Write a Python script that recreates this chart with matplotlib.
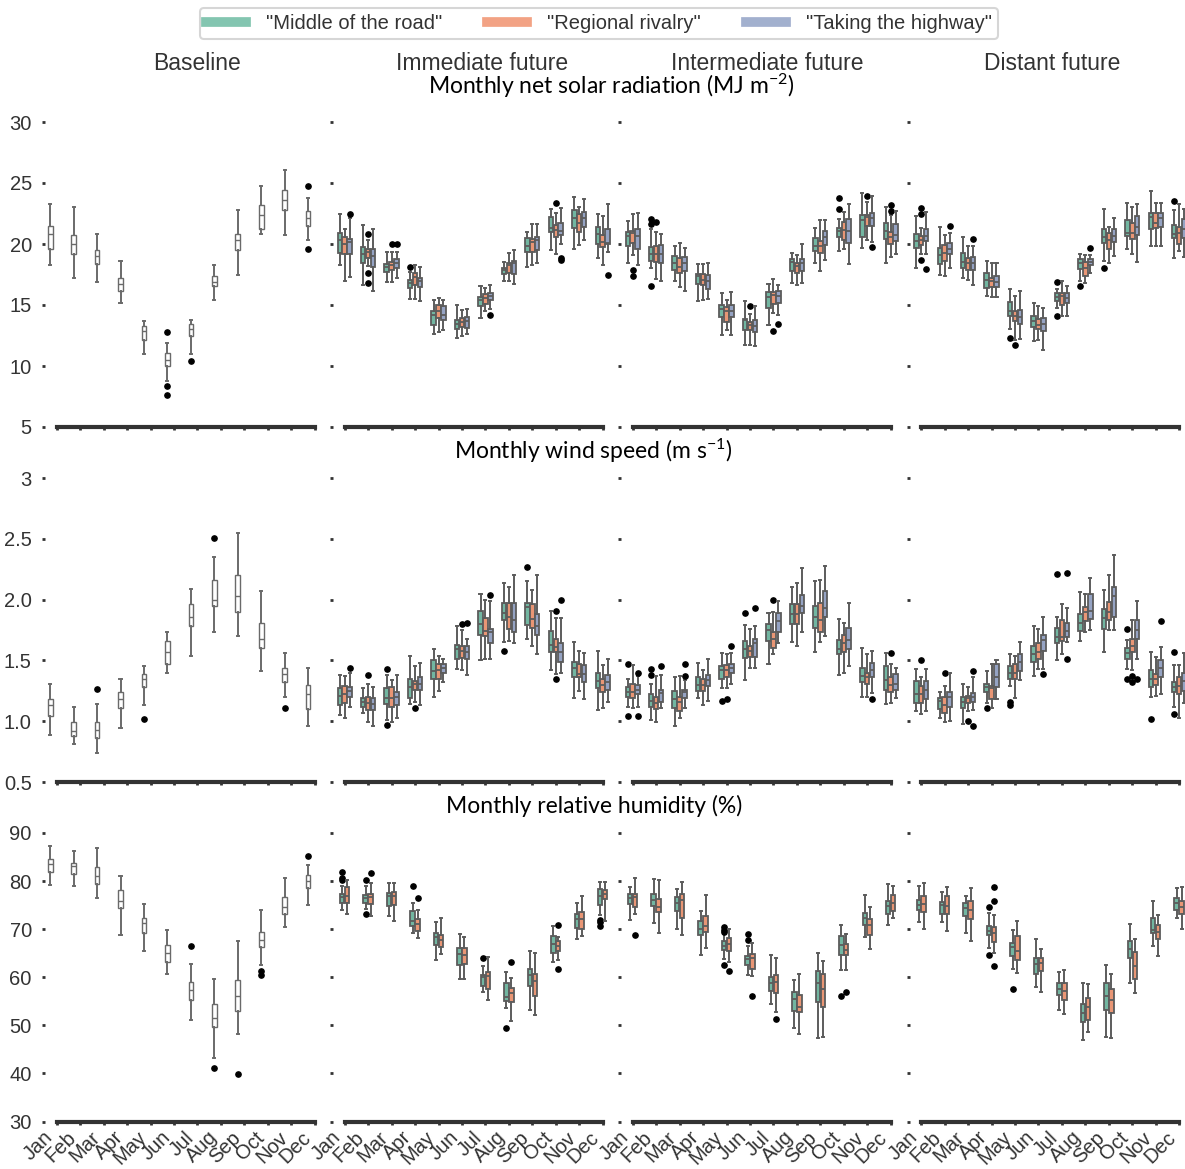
import numpy as np
import matplotlib
matplotlib.use("Agg")
import matplotlib.pyplot as plt
from matplotlib.lines import Line2D
import seaborn as sns

months = ["Jan", "Feb", "Mar", "Apr", "May", "Jun", "Jul", "Aug", "Sep", "Oct", "Nov", "Dec"]
periods = ["Baseline", "Immediate future", "Intermediate future", "Distant future"]
scenarios = ['"Middle of the road"', '"Regional rivalry"', '"Taking the highway"']

# each box: (whisker low, q1, median, q3, whisker high); outliers as {month index: [values]}

# ---- net solar radiation (MJ m-2)
solar_base = [(18.25, 19.6, 20.85, 21.5, 23.3), (17.2, 19.15, 20.0, 20.7, 23.0), (16.9, 18.4, 19.05, 19.5, 20.85),
              (15.15, 16.15, 16.7, 17.25, 18.6), (10.95, 12.15, 12.9, 13.25, 13.7), (8.8, 9.97, 10.5, 11.05, 11.9),
              (10.95, 12.43, 13.05, 13.45, 13.8), (15.4, 16.55, 16.9, 17.4, 18.3), (17.5, 19.5, 20.3, 20.85, 22.8),
              (20.85, 21.2, 22.35, 23.2, 24.75), (20.7, 22.8, 23.6, 24.4, 26.1), (20.3, 21.5, 22.15, 22.7, 23.8)]
solar_base_out = {5: [12.8, 8.4, 7.6], 6: [10.45], 11: [24.75, 19.6]}

solar_imm_mid = [(18.29, 19.24, 20.33, 20.88, 22.46), (16.66, 18.48, 19.19, 19.79, 21.56), (16.85, 17.69, 18.15, 18.37, 19.38),
                 (15.48, 16.38, 16.79, 17.06, 17.7), (12.63, 13.36, 14.2, 14.53, 15.38), (12.3, 13.03, 13.47, 13.8, 15.0),
                 (13.93, 14.94, 15.43, 15.65, 16.57), (16.98, 17.55, 17.88, 18.07, 18.56), (18.15, 19.38, 19.87, 20.52, 21.01),
                 (19.52, 20.96, 21.29, 22.18, 22.84), (19.57, 21.34, 22.1, 22.78, 23.82), (18.83, 19.98, 20.82, 21.42, 22.46)]
solar_imm_mid_out = {3: [18.1]}
solar_imm_reg = [(16.93, 19.16, 20.0, 20.6, 21.2), (18.2, 18.83, 19.38, 19.57, 20.33), (16.85, 17.88, 18.29, 18.56, 19.38),
                 (15.48, 16.66, 17.33, 17.6, 18.29), (12.79, 13.93, 14.53, 14.97, 15.57), (12.49, 13.17, 13.58, 13.93, 14.61),
                 (14.48, 15.1, 15.54, 15.89, 16.38), (16.93, 17.61, 18.24, 18.48, 19.24), (18.24, 19.38, 20.2, 20.39, 21.64),
                 (19.19, 20.55, 21.15, 21.56, 22.51), (19.92, 20.96, 21.69, 22.43, 23.0), (18.24, 19.79, 20.2, 20.74, 22.29)]
solar_imm_reg_out = {1: [20.82, 17.6, 16.8], 2: [19.98], 9: [23.33]}
solar_imm_high = [(17.3, 19.19, 20.2, 20.39, 22.1), (16.16, 18.15, 19.0, 19.57, 21.2), (17.2, 18.0, 18.43, 18.8, 19.38),
                  (15.35, 16.47, 16.93, 17.25, 18.15), (12.92, 13.8, 14.2, 14.94, 15.43), (12.63, 13.12, 13.66, 14.01, 14.67),
                  (14.67, 15.38, 15.76, 15.97, 16.66), (16.71, 17.53, 18.43, 18.64, 19.52), (18.48, 19.52, 20.33, 20.55, 21.64),
                  (20.0, 20.74, 21.07, 21.69, 22.92), (20.33, 21.42, 22.1, 22.65, 23.65), (19.32, 19.98, 20.06, 21.2, 23.25)]
solar_imm_high_out = {0: [22.5], 2: [19.98], 6: [14.2], 9: [18.83, 18.7], 11: [17.47]}

solar_int_mid = [(18.43, 19.87, 20.66, 21.01, 21.91), (18.02, 18.62, 19.19, 19.79, 21.2), (16.98, 17.88, 18.48, 19.05, 19.87),
                 (15.29, 16.74, 17.34, 17.53, 18.34), (12.57, 13.99, 14.67, 14.97, 15.97), (11.7, 12.98, 13.74, 13.88, 15.29),
                 (13.39, 14.75, 15.62, 16.03, 16.74), (16.79, 17.75, 18.51, 18.75, 19.24), (18.43, 19.46, 19.87, 20.47, 21.29),
                 (19.46, 20.55, 21.07, 21.29, 22.02), (19.65, 20.55, 21.97, 22.38, 24.2), (18.48, 20.39, 21.07, 21.75, 23.06)]
solar_int_mid_out = {1: [22.02, 21.64, 16.52], 9: [23.74, 22.84]}
solar_int_reg = [(19.11, 20.06, 20.93, 21.1, 22.46), (17.15, 18.51, 19.19, 19.84, 21.01), (16.47, 17.66, 18.15, 18.83, 20.06),
                 (15.43, 16.66, 17.06, 17.55, 18.34), (12.98, 13.61, 14.48, 14.83, 15.38), (11.75, 12.92, 13.39, 13.58, 14.3),
                 (14.34, 15.1, 15.78, 16.03, 17.12), (16.66, 17.66, 18.21, 18.43, 19.11), (17.75, 19.24, 19.87, 20.28, 21.97),
                 (19.6, 20.33, 21.15, 21.78, 22.59), (20.33, 21.48, 22.24, 22.38, 23.46), (18.97, 20.0, 20.55, 21.01, 22.38)]
solar_int_reg_out = {0: [17.88, 17.34], 1: [21.78], 5: [14.89], 6: [12.9], 10: [23.95], 11: [23.19, 22.73]}
solar_int_high = [(18.24, 19.57, 20.66, 21.2, 22.57), (16.93, 18.43, 19.19, 19.92, 20.82), (16.11, 17.75, 18.43, 18.92, 19.65),
                  (15.48, 16.3, 16.93, 17.47, 18.48), (12.57, 13.99, 14.48, 14.97, 16.03), (11.62, 12.76, 13.25, 13.74, 14.89),
                  (14.2, 15.16, 15.7, 16.11, 16.6), (16.79, 17.75, 18.43, 18.75, 20.0), (18.7, 19.92, 20.6, 21.07, 21.97),
                  (18.34, 20.11, 21.1, 22.02, 23.25), (20.2, 21.48, 22.1, 22.57, 23.95), (19.19, 20.28, 20.74, 21.64, 22.73)]
solar_int_high_out = {6: [13.44], 10: [19.73]}

solar_dis_mid = [(18.07, 19.65, 20.28, 20.82, 22.29), (17.47, 18.37, 19.11, 19.65, 21.42), (17.2, 18.02, 18.56, 19.3, 20.55),
                 (15.7, 16.38, 17.06, 17.61, 18.64), (13.03, 14.12, 14.53, 15.21, 16.3), (12.03, 13.17, 13.66, 14.07, 15.16),
                 (14.75, 15.35, 15.65, 15.97, 16.3), (16.93, 17.94, 18.43, 18.75, 19.19), (18.62, 20.06, 20.6, 21.23, 22.84),
                 (19.57, 20.66, 20.93, 21.97, 23.33), (19.87, 21.23, 22.18, 22.51, 24.33), (18.89, 20.52, 20.8, 21.56, 22.78)]
solar_dis_mid_out = {4: [12.27], 6: [16.85, 14.12], 7: [16.52], 8: [18.02], 11: [23.52]}
solar_dis_reg = [(19.19, 19.92, 20.33, 20.66, 21.29), (17.34, 18.62, 19.24, 19.92, 20.74), (17.06, 17.83, 18.43, 18.83, 19.87),
                 (15.65, 16.47, 16.93, 17.25, 18.48), (12.16, 13.66, 14.12, 14.48, 15.7), (12.16, 13.03, 13.39, 13.85, 14.89),
                 (14.12, 15.02, 15.7, 15.97, 16.93), (16.79, 17.34, 18.02, 18.56, 19.11), (18.48, 19.57, 20.33, 20.93, 21.42),
                 (19.19, 20.39, 20.88, 21.69, 23.0), (19.87, 21.29, 21.69, 22.51, 23.33), (19.43, 20.0, 20.93, 21.37, 23.25)]
solar_dis_reg_out = {0: [22.92, 22.43, 18.7], 4: [11.75]}
solar_dis_high = [(19.19, 20.25, 20.66, 21.2, 22.65), (18.07, 19.16, 19.57, 20.06, 20.93), (16.66, 17.88, 18.43, 18.92, 19.84),
                  (15.65, 16.47, 16.85, 17.39, 18.43), (12.22, 13.47, 14.01, 14.56, 16.11), (11.29, 12.84, 13.47, 13.93, 14.75),
                  (14.07, 15.16, 15.57, 15.97, 16.52), (17.6, 18.24, 18.51, 18.75, 19.11), (19.05, 20.2, 20.66, 21.2, 22.1),
                  (18.56, 20.74, 21.37, 22.29, 23.25), (19.87, 21.37, 22.16, 22.51, 23.38), (18.97, 20.52, 21.2, 22.02, 22.84)]
solar_dis_high_out = {0: [17.94], 1: [21.5], 2: [20.41], 7: [19.71]}

# ---- wind speed (m s-1)
wind_base = [(0.89, 1.045, 1.13, 1.185, 1.31), (0.81, 0.875, 0.92, 0.99, 1.12), (0.74, 0.86, 0.925, 0.99, 1.14),
             (0.945, 1.11, 1.185, 1.24, 1.35), (1.13, 1.28, 1.35, 1.39, 1.45), (1.40, 1.47, 1.57, 1.66, 1.73),
             (1.54, 1.78, 1.86, 1.96, 2.09), (1.73, 1.945, 2.0, 2.16, 2.35), (1.70, 1.895, 2.03, 2.205, 2.55),
             (1.415, 1.60, 1.68, 1.81, 2.07), (1.20, 1.32, 1.39, 1.44, 1.56), (0.96, 1.10, 1.22, 1.30, 1.44)]
wind_base_out = {2: [1.265], 4: [1.02], 7: [2.51], 10: [1.11]}

wind_imm_mid = [(1.05, 1.13, 1.21, 1.27, 1.38), (1.07, 1.12, 1.16, 1.19, 1.27), (1.01, 1.14, 1.19, 1.27, 1.38),
                (1.14, 1.19, 1.28, 1.35, 1.54), (1.20, 1.35, 1.41, 1.50, 1.59), (1.43, 1.51, 1.59, 1.63, 1.78),
                (1.50, 1.71, 1.80, 1.91, 2.05), (1.65, 1.83, 1.89, 1.97, 2.14), (1.68, 1.79, 1.94, 1.97, 2.15),
                (1.42, 1.57, 1.63, 1.74, 1.91), (1.19, 1.36, 1.44, 1.49, 1.65), (1.09, 1.27, 1.33, 1.40, 1.58)]
wind_imm_mid_out = {2: [1.43, 0.97], 7: [1.58], 8: [2.27]}
wind_imm_reg = [(1.03, 1.15, 1.22, 1.29, 1.37), (0.99, 1.09, 1.15, 1.20, 1.31), (0.99, 1.12, 1.19, 1.28, 1.34),
                (1.16, 1.26, 1.31, 1.33, 1.45), (1.25, 1.35, 1.42, 1.47, 1.54), (1.42, 1.52, 1.58, 1.62, 1.75),
                (1.51, 1.70, 1.74, 1.85, 2.0), (1.66, 1.76, 1.86, 1.97, 2.10), (1.62, 1.77, 1.84, 1.96, 2.08),
                (1.39, 1.57, 1.61, 1.68, 1.85), (1.25, 1.36, 1.39, 1.47, 1.58), (1.11, 1.24, 1.30, 1.35, 1.46)]
wind_imm_reg_out = {1: [1.38], 3: [1.11], 5: [1.80], 9: [1.91, 1.35]}
wind_imm_high = [(1.12, 1.20, 1.25, 1.28, 1.40), (0.96, 1.09, 1.14, 1.19, 1.28), (1.03, 1.13, 1.20, 1.24, 1.38),
                 (1.13, 1.26, 1.31, 1.36, 1.48), (1.32, 1.40, 1.44, 1.47, 1.51), (1.38, 1.51, 1.57, 1.62, 1.68),
                 (1.51, 1.64, 1.73, 1.76, 1.99), (1.64, 1.73, 1.83, 1.97, 2.20), (1.55, 1.71, 1.78, 1.88, 2.20),
                 (1.40, 1.49, 1.57, 1.64, 1.85), (1.18, 1.32, 1.39, 1.46, 1.56), (1.16, 1.26, 1.32, 1.38, 1.51)]
wind_imm_high_out = {0: [1.44], 5: [1.81], 6: [2.04], 9: [2.0]}

wind_int_mid = [(1.12, 1.20, 1.24, 1.28, 1.35), (1.01, 1.12, 1.17, 1.22, 1.31), (0.96, 1.11, 1.18, 1.25, 1.36),
                (1.19, 1.25, 1.30, 1.36, 1.48), (1.27, 1.35, 1.42, 1.45, 1.56), (1.34, 1.52, 1.59, 1.66, 1.79),
                (1.47, 1.66, 1.75, 1.80, 1.89), (1.65, 1.80, 1.88, 1.96, 2.10), (1.57, 1.77, 1.86, 1.95, 2.15),
                (1.38, 1.55, 1.59, 1.67, 1.84), (1.20, 1.32, 1.37, 1.44, 1.60), (1.14, 1.26, 1.34, 1.45, 1.56)]
wind_int_mid_out = {0: [1.47, 1.04], 1: [1.43, 1.38], 4: [1.17], 5: [1.89]}
wind_int_reg = [(1.11, 1.19, 1.24, 1.31, 1.46), (0.99, 1.10, 1.15, 1.20, 1.37), (1.03, 1.08, 1.16, 1.20, 1.37),
                (1.13, 1.25, 1.30, 1.35, 1.42), (1.27, 1.36, 1.42, 1.46, 1.55), (1.44, 1.53, 1.58, 1.62, 1.76),
                (1.55, 1.60, 1.68, 1.73, 1.90), (1.62, 1.80, 1.88, 1.96, 2.14), (1.65, 1.73, 1.83, 1.97, 2.16),
                (1.40, 1.57, 1.64, 1.71, 1.81), (1.20, 1.31, 1.36, 1.40, 1.55), (1.15, 1.24, 1.30, 1.36, 1.47)]
wind_int_reg_out = {4: [1.18], 6: [2.0], 11: [1.56]}
wind_int_high = [(1.12, 1.22, 1.26, 1.30, 1.37), (1.11, 1.16, 1.23, 1.26, 1.38), (1.11, 1.19, 1.24, 1.26, 1.34),
                 (1.17, 1.29, 1.34, 1.38, 1.51), (1.31, 1.40, 1.44, 1.47, 1.56), (1.44, 1.53, 1.64, 1.68, 1.78),
                 (1.64, 1.73, 1.82, 1.89, 1.99), (1.73, 1.89, 1.95, 2.04, 2.26), (1.70, 1.86, 1.93, 2.07, 2.28),
                 (1.45, 1.59, 1.67, 1.77, 1.97), (1.23, 1.36, 1.42, 1.48, 1.58), (1.19, 1.26, 1.31, 1.39, 1.44)]
wind_int_high_out = {0: [1.40, 1.04], 1: [1.45], 2: [1.47, 1.37], 4: [1.62], 5: [1.93], 10: [1.18]}

wind_dis_mid = [(1.08, 1.15, 1.22, 1.33, 1.43), (1.03, 1.10, 1.17, 1.19, 1.24), (0.98, 1.11, 1.16, 1.20, 1.31),
                (1.15, 1.24, 1.28, 1.31, 1.41), (1.29, 1.35, 1.40, 1.45, 1.55), (1.37, 1.49, 1.55, 1.62, 1.78),
                (1.50, 1.64, 1.69, 1.77, 1.86), (1.66, 1.74, 1.81, 1.88, 2.06), (1.57, 1.76, 1.85, 1.92, 2.08),
                (1.43, 1.51, 1.56, 1.60, 1.67), (1.20, 1.28, 1.35, 1.42, 1.57), (1.12, 1.24, 1.28, 1.32, 1.46)]
wind_dis_mid_out = {3: [1.11], 4: [1.16, 1.13], 6: [2.21], 9: [1.76, 1.35], 10: [1.02], 11: [1.57, 1.06]}
wind_dis_reg = [(1.06, 1.15, 1.22, 1.29, 1.36), (0.99, 1.07, 1.13, 1.20, 1.29), (1.08, 1.15, 1.19, 1.21, 1.28),
                (1.11, 1.18, 1.27, 1.29, 1.47), (1.19, 1.35, 1.40, 1.47, 1.54), (1.43, 1.51, 1.57, 1.64, 1.76),
                (1.55, 1.66, 1.69, 1.83, 1.96), (1.73, 1.82, 1.90, 1.94, 2.05), (1.75, 1.83, 1.90, 1.98, 2.20),
                (1.42, 1.57, 1.62, 1.68, 1.83), (1.21, 1.30, 1.35, 1.39, 1.53), (1.03, 1.22, 1.29, 1.36, 1.46)]
wind_dis_reg_out = {0: [1.50], 1: [1.40], 2: [1.0], 9: [1.37, 1.32]}
wind_dis_high = [(1.08, 1.18, 1.26, 1.33, 1.43), (1.0, 1.12, 1.20, 1.24, 1.40), (1.09, 1.16, 1.20, 1.23, 1.36),
                 (1.18, 1.28, 1.36, 1.47, 1.50), (1.34, 1.41, 1.49, 1.55, 1.65), (1.43, 1.58, 1.67, 1.71, 1.86),
                 (1.65, 1.69, 1.74, 1.81, 1.93), (1.75, 1.84, 1.91, 2.05, 2.18), (1.75, 1.86, 2.03, 2.10, 2.37),
                 (1.51, 1.68, 1.75, 1.83, 1.99), (1.22, 1.36, 1.44, 1.50, 1.61), (1.15, 1.25, 1.33, 1.40, 1.56)]
wind_dis_high_out = {2: [1.41, 0.96], 5: [1.39], 6: [2.22, 1.51], 9: [1.35], 10: [1.82]}

# ---- relative humidity (%)
hum_base = [(79.1, 81.9, 83.6, 84.6, 87.4), (78.9, 81.5, 83.2, 83.8, 86.3), (76.5, 79.3, 81.1, 82.9, 86.9),
            (68.8, 74.4, 75.9, 78.2, 81.1), (65.4, 69.1, 71.3, 72.3, 75.2), (60.7, 63.2, 65.0, 66.8, 69.9),
            (51.2, 55.3, 57.4, 59.0, 62.7), (43.2, 49.6, 51.5, 54.4, 59.7), (48.3, 52.9, 56.0, 59.5, 67.6),
            (62.5, 66.3, 67.8, 69.4, 73.9), (70.4, 73.1, 74.6, 76.6, 80.6), (75.1, 78.6, 80.1, 81.3, 83.4)]
hum_base_out = {6: [66.4], 7: [41.2], 8: [39.9], 9: [61.2, 60.5], 11: [85.3]}

hum_imm_mid = [(73.9, 75.4, 76.7, 77.3, 79.0), (74.2, 75.4, 76.5, 77.2, 79.0), (72.8, 74.9, 76.8, 77.5, 79.7),
               (69.1, 70.7, 71.8, 73.7, 75.4), (63.6, 66.8, 68.3, 69.3, 71.4), (59.6, 62.6, 64.9, 66.1, 69.0),
               (56.9, 58.1, 60.0, 60.4, 62.3), (53.6, 55.1, 55.9, 58.8, 61.0), (53.2, 58.1, 60.4, 61.8, 65.4),
               (63.1, 65.0, 66.9, 68.5, 70.7), (68.0, 70.2, 72.1, 73.2, 75.4), (73.0, 75.1, 77.0, 78.3, 79.9)]
hum_imm_mid_out = {0: [81.8, 80.6, 80.2], 1: [80.2, 73.1], 3: [79.0], 6: [64.1], 7: [49.4], 11: [72.0, 71.4, 70.7]}
hum_imm_reg = [(73.2, 75.4, 76.8, 78.8, 80.3), (72.7, 75.3, 76.7, 77.4, 79.5), (71.8, 75.1, 76.8, 77.7, 79.6),
               (68.2, 69.7, 71.1, 72.1, 73.9), (64.9, 66.3, 67.8, 68.7, 72.3), (59.6, 62.8, 64.7, 66.0, 68.4),
               (55.3, 57.6, 60.2, 61.0, 64.2), (50.8, 54.8, 56.7, 57.8, 59.8), (52.2, 56.0, 59.3, 60.7, 65.0),
               (63.6, 65.5, 66.6, 67.5, 68.4), (68.5, 70.0, 72.1, 73.6, 76.8), (71.8, 76.3, 77.3, 78.2, 79.8)]
hum_imm_reg_out = {1: [81.7], 3: [76.5], 7: [63.2], 9: [70.9, 61.8]}

hum_int_mid = [(72.0, 75.3, 76.5, 77.4, 78.8), (71.3, 74.9, 76.0, 77.4, 80.4), (70.0, 73.8, 75.4, 76.7, 78.4),
               (64.7, 68.8, 70.0, 71.8, 73.7), (63.8, 65.7, 66.6, 67.5, 68.9), (60.5, 62.5, 63.8, 64.5, 66.5),
               (54.4, 57.1, 58.9, 60.0, 64.7), (49.4, 52.9, 55.5, 56.9, 59.5), (47.4, 54.8, 58.9, 61.2, 65.0),
               (61.6, 64.7, 66.8, 68.6, 70.9), (68.3, 70.8, 72.3, 73.4, 77.2), (70.9, 73.2, 74.9, 75.8, 79.3)]
hum_int_mid_out = {4: [70.4, 69.9, 69.4, 62.6], 5: [69.0, 67.8], 9: [56.2]}
hum_int_reg = [(73.2, 74.6, 76.7, 77.4, 80.6), (69.3, 73.5, 74.7, 76.3, 80.3), (68.8, 72.3, 76.1, 77.4, 79.9),
               (66.1, 69.5, 70.6, 72.8, 77.2), (63.2, 65.4, 67.0, 68.2, 70.0), (60.2, 61.8, 63.9, 64.9, 67.1),
               (52.7, 56.7, 59.1, 60.4, 64.0), (48.1, 52.7, 53.8, 56.4, 60.7), (47.6, 53.9, 57.5, 60.6, 63.4),
               (61.6, 64.7, 65.6, 66.9, 69.0), (65.9, 68.8, 70.8, 72.1, 74.7), (72.3, 73.7, 75.4, 77.2, 79.0)]
hum_int_reg_out = {0: [68.8], 4: [61.2], 5: [56.2], 6: [51.3], 9: [56.9]}

hum_dis_mid = [(71.4, 73.9, 75.1, 76.1, 79.0), (71.4, 73.2, 75.1, 75.6, 77.7), (69.3, 72.8, 74.4, 75.4, 77.0),
               (66.1, 68.8, 69.7, 70.7, 73.4), (61.8, 64.5, 66.3, 67.1, 69.9), (57.9, 60.7, 62.8, 63.9, 67.9),
               (53.1, 56.4, 57.6, 58.9, 61.0), (47.0, 50.6, 52.6, 54.4, 58.8), (47.5, 53.1, 56.0, 58.9, 62.6),
               (58.9, 64.1, 65.9, 67.5, 71.1), (66.4, 69.3, 69.9, 72.3, 75.9), (72.3, 73.9, 75.4, 76.5, 78.6)]
hum_dis_mid_out = {3: [74.6, 64.7], 4: [57.5]}
hum_dis_reg = [(70.0, 73.6, 75.3, 77.0, 79.6), (69.7, 73.2, 74.9, 76.8, 78.7), (67.5, 72.1, 74.0, 75.9, 78.6),
               (65.0, 67.3, 69.3, 70.4, 73.0), (60.9, 63.5, 65.4, 68.6, 71.8), (56.9, 61.2, 63.0, 64.0, 65.9),
               (52.4, 55.2, 57.1, 58.9, 61.6), (48.6, 51.2, 53.8, 55.7, 58.7), (47.4, 52.6, 55.2, 57.5, 60.7),
               (56.7, 59.6, 62.3, 65.2, 68.0), (64.5, 68.0, 69.5, 70.8, 73.0), (70.0, 73.2, 74.7, 75.9, 78.7)]
hum_dis_reg_out = {3: [78.7, 75.8, 62.3]}

row_titles = ["Monthly net solar radiation (MJ m$^{-2}$)", "Monthly wind speed (m s$^{-1}$)", "Monthly relative humidity (%)"]


# ---------------------------------------------------------------- drawing
W, H = 1185, 1169
fig = plt.figure(figsize=(W / 100, H / 100), dpi=100)
plt.rcParams['font.family'] = ['Liberation Sans', 'DejaVu Sans']

pal = sns.color_palette("Set2", 3)
box_clrs = [sns.desaturate(c, 0.75) for c in pal]
line_clr = "#5c5c5c"
text_clr = "#333333"

col_left = [45, 333, 621, 909.5]   # pixels
col_w = 281.4
rows_px = [(122, 427), (478, 782), (833, 1121.5)]
ylims = [(5, 30), (0.5, 3), (30, 90)]
yticks = [[5, 10, 15, 20, 25, 30], [0.5, 1.0, 1.5, 2.0, 2.5, 3], [30, 40, 50, 60, 70, 80, 90]]
yticklabels = [["5", "10", "15", "20", "25", "30"], ["0.5", "1.0", "1.5", "2.0", "2.5", "3"],
               ["30", "40", "50", "60", "70", "80", "90"]]

data = [
    [(solar_base, solar_base_out)],
    [(solar_imm_mid, solar_imm_mid_out), (solar_imm_reg, solar_imm_reg_out), (solar_imm_high, solar_imm_high_out)],
    [(solar_int_mid, solar_int_mid_out), (solar_int_reg, solar_int_reg_out), (solar_int_high, solar_int_high_out)],
    [(solar_dis_mid, solar_dis_mid_out), (solar_dis_reg, solar_dis_reg_out), (solar_dis_high, solar_dis_high_out)],
], [
    [(wind_base, wind_base_out)],
    [(wind_imm_mid, wind_imm_mid_out), (wind_imm_reg, wind_imm_reg_out), (wind_imm_high, wind_imm_high_out)],
    [(wind_int_mid, wind_int_mid_out), (wind_int_reg, wind_int_reg_out), (wind_int_high, wind_int_high_out)],
    [(wind_dis_mid, wind_dis_mid_out), (wind_dis_reg, wind_dis_reg_out), (wind_dis_high, wind_dis_high_out)],
], [
    [(hum_base, hum_base_out)],
    [(hum_imm_mid, hum_imm_mid_out), (hum_imm_reg, hum_imm_reg_out)],
    [(hum_int_mid, hum_int_mid_out), (hum_int_reg, hum_int_reg_out)],
    [(hum_dis_mid, hum_dis_mid_out), (hum_dis_reg, hum_dis_reg_out)],
]


def draw_boxes(ax, boxes, outs, offset, width, face, edge, lw):
    stats = []
    for i, (lo, q1, med, q3, hi) in enumerate(boxes):
        stats.append(dict(whislo=lo, q1=q1, med=med, q3=q3, whishi=hi, fliers=outs.get(i, [])))
    ax.bxp(stats, positions=np.arange(12) + offset, widths=width, patch_artist=True,
           capwidths=width * 0.45, manage_ticks=False,
           boxprops=dict(facecolor=face, edgecolor=edge, linewidth=lw),
           whiskerprops=dict(color=edge, linewidth=1.4),
           capprops=dict(color=edge, linewidth=1.4),
           medianprops=dict(color=edge, linewidth=lw),
           flierprops=dict(marker='o', markerfacecolor='black', markeredgecolor='black', markersize=3.8))


for r in range(3):
    top, bot = rows_px[r]
    for c in range(4):
        ax = fig.add_axes([col_left[c] / W, 1 - bot / H, col_w / W, (bot - top) / H])
        series = data[r][c]
        if c == 0:
            draw_boxes(ax, series[0][0], series[0][1], -0.28, 0.2, "white", "#6a6a6a", 1.0)
        else:
            n = len(series)
            offs = [-0.21, 0.0, 0.21] if n == 3 else [-0.105, 0.105]
            for k, (boxes, outs) in enumerate(series):
                draw_boxes(ax, boxes, outs, offs[k], 0.19, box_clrs[k], line_clr, 1.3)
        ax.set_xlim(-0.5, 11.5)
        ax.set_ylim(*ylims[r])
        ax.set_yticks(yticks[r])
        ax.set_xticks(np.arange(12))
        for s in ["top", "right", "left"]:
            ax.spines[s].set_visible(False)
        ax.spines["bottom"].set_bounds(0, 11)
        ax.spines["bottom"].set_linewidth(3)
        ax.spines["bottom"].set_color(text_clr)
        ax.tick_params(axis="both", length=2.5, width=2, color=text_clr, labelcolor=text_clr, labelsize=14.5)
        ax.tick_params(axis="y", pad=7)
        ax.tick_params(axis="x", pad=2)
        if c == 0:
            ax.set_yticklabels(yticklabels[r])
        else:
            ax.set_yticklabels([])
        if r == 2:
            ax.set_xticklabels(months, rotation=45, ha="right")
        else:
            ax.set_xticklabels([])
        ax.patch.set_alpha(0)

# column and row titles
col_title_x = [197, 482, 767, 1052]
for c in range(4):
    fig.text(col_title_x[c] / W, 1 - 63 / H, periods[c], ha="center", va="center", fontsize=16.5, color=text_clr)

plt.rcParams['mathtext.default'] = 'regular'
row_title_pos = [(611, 86), (593, 451), (594, 806)]
for r in range(3):
    x, y = row_title_pos[r]
    fig.text(x / W, 1 - y / H, row_titles[r], ha="center", va="center", fontsize=16.5, color="black",
             family=["Lato", "DejaVu Sans"])

handles = [Line2D([0], [0], color=sns.desaturate(c, 0.85), lw=7, alpha=0.85) for c in pal]
leg = fig.legend(handles, scenarios, loc="upper center", bbox_to_anchor=(599 / W, 1 - 8 / H), ncol=3,
                 fontsize=14.5, frameon=True, handlelength=2.0, handletextpad=1.0, columnspacing=2.2,
                 borderpad=0.3, borderaxespad=0, labelcolor=text_clr, fancybox=True)
leg.get_frame().set_edgecolor("#cccccc")
leg.get_frame().set_linewidth(1.5)

fig.savefig("out.png", dpi=100)
